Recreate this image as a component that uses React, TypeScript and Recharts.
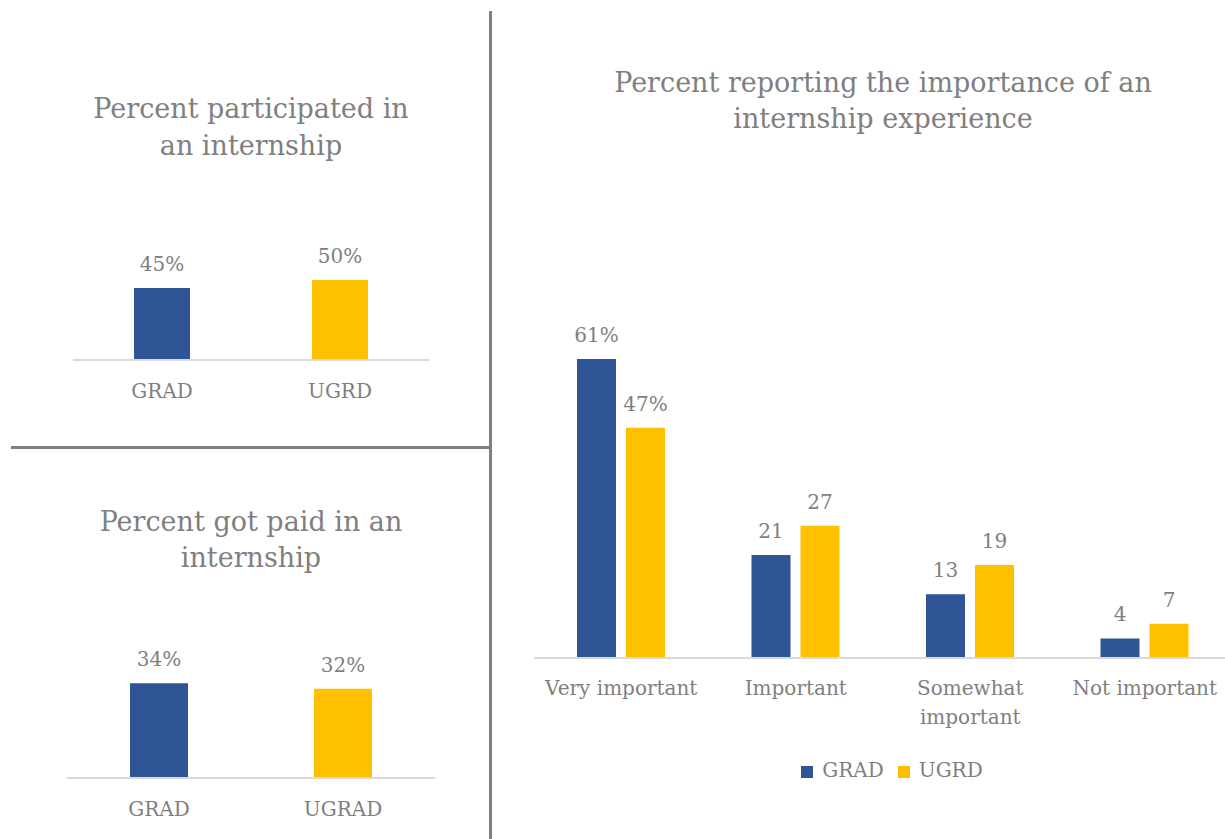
import React from 'react';
import { BarChart, Bar, XAxis, YAxis, Cell, LabelList, Legend } from 'recharts';

// Left top: participation
const participatedCategories = ['GRAD', 'UGRD'];
const participatedValues = [45, 50];

// Left bottom: paid
const paidCategories = ['GRAD', 'UGRAD'];
const paidValues = [34, 32];

// Right: importance
const importanceCategories = ['Very important', 'Important', 'Somewhat important', 'Not important'];
const gradImportance = [61, 21, 13, 4];
const ugrdImportance = [47, 27, 19, 7];

const BLUE = '#2F5597';
const GOLD = '#FFC000';
const TEXT = '#7F7F7F';
const FONT = '"DejaVu Serif", serif';

const participatedData = participatedCategories.map((c, i) => ({ category: c, value: participatedValues[i] }));
const paidData = paidCategories.map((c, i) => ({ category: c, value: paidValues[i] }));
const importanceData = importanceCategories.map((c, i) => ({
  category: c,
  GRAD: gradImportance[i],
  UGRD: ugrdImportance[i],
  gradLabel: i === 0 ? `${gradImportance[i]}%` : `${gradImportance[i]}`,
  ugrdLabel: i === 0 ? `${ugrdImportance[i]}%` : `${ugrdImportance[i]}`,
}));

function Title({ lines, cx, top, lineHeight }: { lines: string[]; cx: number; top: number; lineHeight: number }) {
  return (
    <div
      style={{
        position: 'absolute',
        left: cx - 300,
        width: 600,
        top,
        textAlign: 'center',
        fontSize: 27,
        lineHeight: `${lineHeight}px`,
        color: TEXT,
        fontFamily: FONT,
      }}
    >
      {lines.map((l) => (
        <div key={l}>{l}</div>
      ))}
    </div>
  );
}

// category tick that wraps long names onto two lines
function WrapTick(props: any) {
  const { x, y, payload } = props;
  const text: string = payload.value;
  const lines = text.length > 15 ? text.split(' ') : [text];
  return (
    <text x={x} y={y} textAnchor="middle" fill={TEXT} fontSize={20} fontFamily={FONT}>
      {lines.map((l, i) => (
        <tspan key={i} x={x} dy={29}>
          {l}
        </tspan>
      ))}
    </text>
  );
}

function SmallChart({ data, top, height, margin, max, barSize }: any) {
  return (
    <div style={{ position: 'absolute', left: 0, top }}>
      <BarChart width={490} height={height} data={data} margin={margin}>
        <XAxis
          dataKey="category"
          tickLine={false}
          axisLine={{ stroke: '#D9D9D9', strokeWidth: 2 }}
          tick={{ fill: TEXT, fontSize: 20, fontFamily: FONT }}
          tickMargin={18}
          height={30}
        />
        <YAxis hide domain={[0, max]} />
        <Bar dataKey="value" barSize={barSize} isAnimationActive={false}>
          {data.map((_: any, i: number) => (
            <Cell key={i} fill={i === 0 ? BLUE : GOLD} />
          ))}
          <LabelList
            dataKey="value"
            position="top"
            offset={17}
            formatter={(v: any) => `${v}%`}
            fill={TEXT}
            fontSize={20}
            fontFamily={FONT}
          />
        </Bar>
      </BarChart>
    </div>
  );
}

export default function App() {
  return (
    <div
      style={{
        position: 'absolute',
        left: 0,
        top: 0,
        width: 1225,
        height: 839,
        overflow: 'hidden',
        background: '#fff',
        fontFamily: FONT,
      }}
    >
      {/* panel dividers */}
      <div style={{ position: 'absolute', left: 489, top: 11, width: 3, height: 828, background: '#808080' }} />
      <div style={{ position: 'absolute', left: 11, top: 446, width: 479, height: 3, background: '#808080' }} />

      <Title lines={['Percent participated in', 'an internship']} cx={251} top={90} lineHeight={37} />
      <SmallChart
        data={participatedData}
        top={0}
        height={440}
        margin={{ top: 200, right: 61, bottom: 50, left: 73 }}
        max={100}
        barSize={56}
      />

      <Title lines={['Percent got paid in an', 'internship']} cx={251} top={504} lineHeight={36} />
      <SmallChart
        data={paidData}
        top={450}
        height={389}
        margin={{ top: 188.5, right: 55, bottom: 31, left: 67 }}
        max={50}
        barSize={58}
      />

      <Title
        lines={['Percent reporting the importance of an', 'internship experience']}
        cx={883}
        top={64.6}
        lineHeight={36}
      />
      <div style={{ position: 'absolute', left: 500, top: 0 }}>
        <BarChart
          width={732}
          height={839}
          data={importanceData}
          margin={{ top: 315, right: 0, bottom: 97, left: 34 }}
          barGap={10}
        >
          <XAxis
            dataKey="category"
            tickLine={false}
            axisLine={{ stroke: '#D9D9D9', strokeWidth: 2 }}
            tick={<WrapTick />}
            interval={0}
            height={60}
          />
          <YAxis hide domain={[0, 70]} />
          <Legend
            verticalAlign="bottom"
            iconType="square"
            iconSize={12}
            wrapperStyle={{ top: 758, left: 50, width: 698, fontSize: 20, fontFamily: FONT }}
            formatter={(value: any) => (
              <span style={{ color: TEXT, marginLeft: 5, marginRight: 4 }}>{value}</span>
            )}
          />
          <Bar dataKey="GRAD" fill={BLUE} barSize={39} isAnimationActive={false}>
            <LabelList dataKey="gradLabel" position="top" offset={17} fill={TEXT} fontSize={20} fontFamily={FONT} />
          </Bar>
          <Bar dataKey="UGRD" fill={GOLD} barSize={39} isAnimationActive={false}>
            <LabelList dataKey="ugrdLabel" position="top" offset={17} fill={TEXT} fontSize={20} fontFamily={FONT} />
          </Bar>
        </BarChart>
      </div>
    </div>
  );
}
